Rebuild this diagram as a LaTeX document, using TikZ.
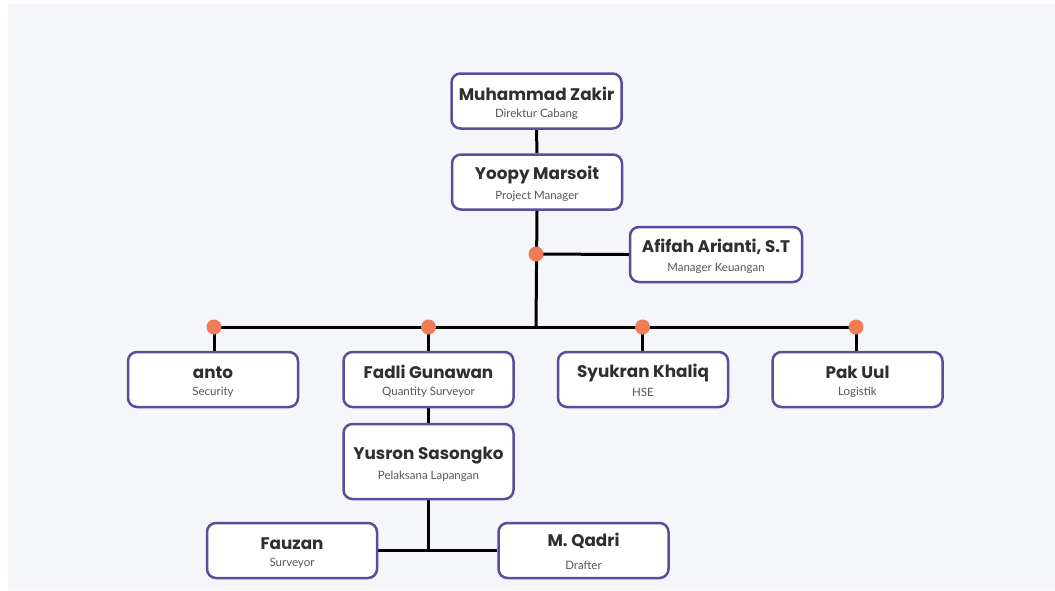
\documentclass[tikz,border=0pt]{standalone}
\usepackage{fontspec}
\setmainfont{Lato}
\newfontfamily\namefont{Poppins}
\usetikzlibrary{backgrounds}
\definecolor{bgc}{HTML}{F5F6FA}
\definecolor{boxc}{HTML}{5A4E9C}
\definecolor{dotc}{HTML}{EF7B57}
\definecolor{namec}{HTML}{2E2E33}
\definecolor{subc}{HTML}{55555A}
\newcommand\cardtext[3]{{\namefont\fontsize{16.8}{18}\selectfont\bfseries\color{namec}\rule{0pt}{18.5pt}#1}\\[#3]{\fontsize{11.5}{13}\selectfont\color{subc}#2\rule[-3pt]{0pt}{3pt}}}
\tikzset{
  card/.style={draw=boxc, line width=2.5pt, fill=white, rounded corners=9pt,
    minimum width=170pt, minimum height=55pt, align=center, inner sep=0pt},
  conn/.style={line width=3pt, black},
  dot/.style={fill=dotc, draw=none}
}
\begin{document}
\begin{tikzpicture}[x=1pt,y=-1pt]
\useasboundingbox (0,0) rectangle (1055,590);
\node[card] (zakir) at (536.5,101) {\cardtext{Muhammad Zakir}{Direktur Cabang}{5pt}};
\node[card] (yoopy) at (537,182) {\cardtext{Yoopy Marsoit}{Project Manager}{6pt}};
\node[card, minimum width=172pt] (afifah) at (716,254.5) {\cardtext{Afifah Arianti, S.T}{Manager Keuangan}{7pt}};
\node[card] (anto) at (213,379.5) {\cardtext{anto}{Security}{5pt}};
\node[card] (fadli) at (428.5,379.5) {\cardtext{Fadli Gunawan}{Quantity Surveyor}{5pt}};
\node[card] (syukran) at (643,379.5) {\cardtext{Syukran Khaliq}{HSE}{5pt}};
\node[card] (pakuul) at (857.5,379.5) {\cardtext{Pak Uul}{Logistik}{5pt}};
\node[card, minimum height=75pt] (yusron) at (428.5,461.5) {\cardtext{Yusron Sasongko}{Pelaksana Lapangan}{6pt}};
\node[card] (fauzan) at (292,550.5) {\cardtext{Fauzan}{Surveyor}{5pt}};
\node[card] (qadri) at (583.5,550.5) {\cardtext{M. Qadri}{Drafter}{11pt}};
\coordinate (d0) at (536,254);
\coordinate (bus) at (536,327);
\coordinate (b1) at (214,327);
\coordinate (b2) at (428.5,327);
\coordinate (b3) at (642.5,327);
\coordinate (b4) at (856,327);
\coordinate (jn) at (428.5,550.5);
\begin{pgfonlayer}{background}
\fill[bgc] (8,4) rectangle (1055,590);
\draw[conn] (zakir.south) -- (yoopy.north);
\draw[conn] (yoopy.south) -- (bus);
\draw[conn] (d0) -- (afifah.west);
\draw[conn] (b1) -- (b4);
\draw[conn] (b1) -- (b1 |- anto.north);
\draw[conn] (b2) -- (fadli.north);
\draw[conn] (b3) -- (b3 |- syukran.north);
\draw[conn] (b4) -- (b4 |- pakuul.north);
\draw[conn] (fadli.south) -- (yusron.north);
\draw[conn] (yusron.south) -- (jn);
\draw[conn] (fauzan.east) -- (qadri.west);
\end{pgfonlayer}
\foreach \p in {d0,b1,b2,b3,b4} \fill[dot] (\p) circle (7.5pt);
\end{tikzpicture}
\end{document}
